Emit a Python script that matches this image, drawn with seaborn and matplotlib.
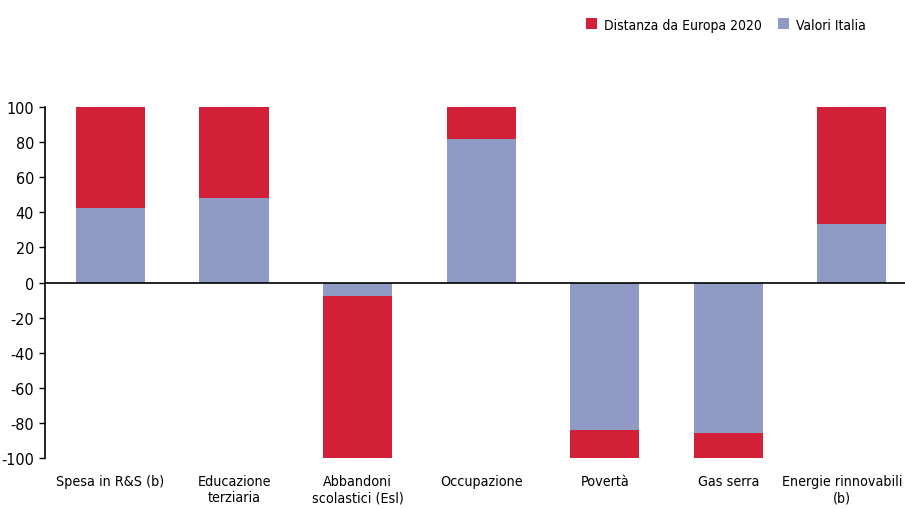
import numpy as np
import pandas as pd
import matplotlib
matplotlib.use("Agg")
import matplotlib.pyplot as plt
import matplotlib.transforms as mtransforms
import seaborn as sns

categorie = ["Spesa in R&S (b)", "Educazione\nterziaria", "Abbandoni\nscolastici (Esl)",
             "Occupazione", "Povertà", "Gas serra", "Energie rinnovabili\n(b)"]
valori_italia = [42.2, 47.9, -7.8, 82.0, -84.2, -85.5, 33.6]
totale = [100, 100, -100, 100, -100, -100, 100]

rosso = "#D12037"
blu = "#8F9BC4"

sns.set_style("white")
plt.rcParams['font.family'] = ['DejaVu Sans']
plt.rcParams['font.stretch'] = 'condensed'
plt.rcParams['axes.unicode_minus'] = False
plt.rcParams['text.color'] = 'black'
plt.rcParams['ytick.color'] = 'black'
plt.rcParams['xtick.color'] = 'black'

df = pd.DataFrame({"cat": categorie, "italia": valori_italia, "tot": totale})

fig = plt.figure(figsize=(9.05, 5.10), dpi=100)
ax = fig.add_axes([45 / 905, 1 - 459 / 510, 1 - 45 / 905, (459 - 108) / 510])

sns.barplot(data=df, x="cat", y="tot", color=rosso, width=0.56, ax=ax,
            label="Distanza da Europa 2020", saturation=1, linewidth=0)
sns.barplot(data=df, x="cat", y="italia", color=blu, width=0.56, ax=ax,
            label="Valori Italia", saturation=1, linewidth=0)

ax.set_ylim(-100, 100)
ax.set_yticks(np.arange(-100, 101, 20))
ax.axhline(0, color="black", lw=1.2)
ax.set_xlabel("")
ax.set_ylabel("")
for s in ["top", "right", "bottom"]:
    ax.spines[s].set_visible(False)
ax.spines["left"].set_color("black")
ax.spines["left"].set_linewidth(1.2)
ax.tick_params(axis="y", left=True, length=4, width=1, labelsize=11.5, pad=4)
ax.tick_params(axis="x", bottom=False, labelsize=10.3, pad=8)
ax.set_xlim(-0.53, 6.43)
labels = ax.get_xticklabels()
for t in labels:
    t.set_horizontalalignment("center")
labels[-1].set_transform(labels[-1].get_transform() +
                         mtransforms.ScaledTranslation(-10 / 100, 0, fig.dpi_scale_trans))

if ax.get_legend():
    ax.get_legend().remove()
h, l = ax.get_legend_handles_labels()
fig.legend(h, l, loc="upper left", bbox_to_anchor=(573 / 905, 1 - 6 / 510), ncol=2,
           frameon=False, fontsize=10, handlelength=0.8, handleheight=0.8,
           handletextpad=0.5, columnspacing=1.2)

fig.savefig("out.png", dpi=100)
